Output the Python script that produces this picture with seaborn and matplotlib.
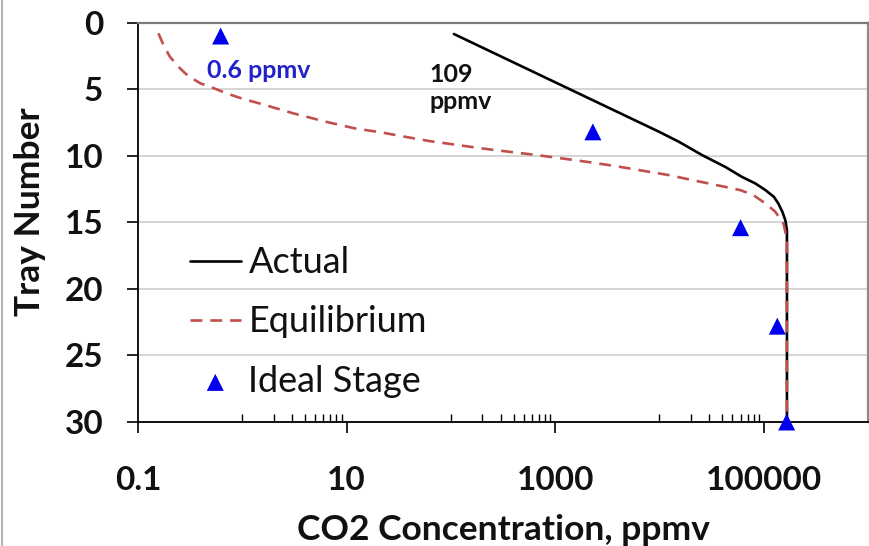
import matplotlib
matplotlib.use("Agg")
import matplotlib.pyplot as plt
from matplotlib.lines import Line2D
from matplotlib.ticker import FixedLocator, NullFormatter
import seaborn as sns
import pandas as pd

# ---- data ----
actual_tray = [0.85, 8.19, 8.95, 9.95, 10.83, 11.58, 12.08, 12.58, 13.08, 13.58,
               14.21, 14.83, 15.59, 30.0]
actual_ppmv = [107, 9890, 15400, 25700, 42700, 61700, 83200, 104000, 125000,
               138000, 151000, 161000, 167000, 167000]

equil_tray = [0.80, 1.70, 2.55, 3.30, 4.00, 4.56, 4.93, 5.31, 5.68, 6.19, 6.81,
              7.44, 7.94, 8.24, 8.57, 8.90, 9.15, 9.45, 9.67, 9.92, 10.20, 10.47,
              10.75, 11.45, 11.88, 12.28, 12.58, 12.95, 13.58, 14.20, 15.10,
              16.30, 30.0]
equil_ppmv = [0.157, 0.176, 0.202, 0.243, 0.302, 0.398, 0.537, 0.708, 0.977, 1.66,
              3.09, 6.31, 12.0, 21.4, 36.3, 63.1, 107, 200, 339, 631, 1170, 2090,
              3630, 12300, 22400, 39400, 59700, 79400, 104000, 129000, 155000,
              167000, 167000]

stage_tray = [1.0, 8.2, 15.4, 22.8, 30.0]
stage_ppmv = [0.62, 2300, 60000, 135000, 166000]

x_ticks = [0.1, 10, 1000, 100000]
x_tick_labels = ["0.1", "10", "1000", "100000"]
x_minor_ticks = [1, 2, 3, 4, 5, 6, 7, 8, 9,
                 100, 200, 300, 400, 500, 600, 700, 800, 900,
                 10000, 20000, 30000, 40000, 50000, 60000, 70000, 80000, 90000]
y_ticks = [0, 5, 10, 15, 20, 25, 30]

series_names = ["Actual", "Equilibrium", "Ideal Stage"]

df_actual = pd.DataFrame({"ppmv": actual_ppmv, "tray": actual_tray})
df_equil = pd.DataFrame({"ppmv": equil_ppmv, "tray": equil_tray})
df_stage = pd.DataFrame({"ppmv": stage_ppmv, "tray": stage_tray})

# ---- style ----
sns.set_theme(style="white")
plt.rcParams["font.family"] = ["Lato", "DejaVu Sans"]

fig = plt.figure(figsize=(8.7, 5.46), dpi=100)
ax = fig.add_axes([138 / 870, 1 - 422 / 546, 730 / 870, (422 - 22.7) / 546])

sns.lineplot(data=df_actual, x="ppmv", y="tray", sort=False, estimator=None,
             color="black", lw=1.9, ax=ax, label=series_names[0], zorder=3)
sns.lineplot(data=df_equil, x="ppmv", y="tray", sort=False, estimator=None,
             color="#C0504D", lw=1.9, ax=ax, label=series_names[1], zorder=4,
             dashes=False)
ax.lines[-1].set_dashes([4.5, 3.0])
sns.scatterplot(data=df_stage, x="ppmv", y="tray", marker="^", s=150,
                color="#0000EE", edgecolor="none", ax=ax, label=series_names[2],
                zorder=5, clip_on=False)

ax.set_xscale("log")
ax.set_xlim(0.1, 1e6)
ax.set_ylim(30, 0)

ax.xaxis.set_major_locator(FixedLocator(x_ticks))
ax.set_xticklabels(x_tick_labels)
ax.xaxis.set_minor_locator(FixedLocator(x_minor_ticks))
ax.xaxis.set_minor_formatter(NullFormatter())
ax.yaxis.set_major_locator(FixedLocator(y_ticks))
ax.set_yticklabels([str(v) for v in y_ticks])

ax.tick_params(axis="x", which="major", direction="out", length=8, width=1.2,
               color="black", pad=24, labelsize=24, bottom=True)
ax.tick_params(axis="x", which="minor", direction="in", length=6, width=1.0,
               color="black", bottom=True)
ax.tick_params(axis="y", which="major", direction="out", length=8, width=1.2,
               color="black", pad=17, labelsize=24, left=True)
for lab in ax.get_xticklabels() + ax.get_yticklabels():
    lab.set_fontweight("bold")
    lab.set_color("#111111")

ax.yaxis.grid(True, color="#d2d2d2", lw=1.3)
ax.xaxis.grid(False)
ax.set_axisbelow(True)

for side in ["left", "bottom"]:
    ax.spines[side].set_color("black")
    ax.spines[side].set_linewidth(1.3)
ax.spines["top"].set_color("#7a7a7a")
ax.spines["top"].set_linewidth(1.6)
ax.spines["right"].set_color("#8a8a8a")
ax.spines["right"].set_linewidth(1.6)

ax.set_xlabel("CO2 Concentration, ppmv", fontsize=25.5, fontweight="bold",
              color="#111111", va="center")
ax.xaxis.set_label_coords(0.5, (422 - 530) / 399.3)
ax.set_ylabel("Tray Number", fontsize=25.5, fontweight="bold", color="#111111",
              va="center")
ax.yaxis.set_label_coords((30 - 138) / 730, (422 - 212) / 399.3)

# annotations
ax.text(0.457, 4.16, "0.6 ppmv", color="#2222CC", fontsize=18,
        fontweight="bold", ha="left", va="baseline")
ax.text(62.2, 4.46, "109", color="#111111", fontsize=18, fontweight="bold",
        ha="left", va="baseline")
ax.text(62.2, 6.5, "ppmv", color="#111111", fontsize=18, fontweight="bold",
        ha="left", va="baseline")

leg = ax.legend(loc="center left", bbox_to_anchor=(52 / 730, (422 - 322) / 399.3),
                frameon=False, fontsize=26, borderpad=0, borderaxespad=0,
                handlelength=1.4, handletextpad=0.22, labelspacing=0.73)
for t in leg.get_texts():
    t.set_color("#111111")

fig.add_artist(Line2D([2.5 / 870, 2.5 / 870], [0, 1], color="#b5b5b5", lw=1.5,
                      transform=fig.transFigure))

fig.savefig("out.png", dpi=100)
